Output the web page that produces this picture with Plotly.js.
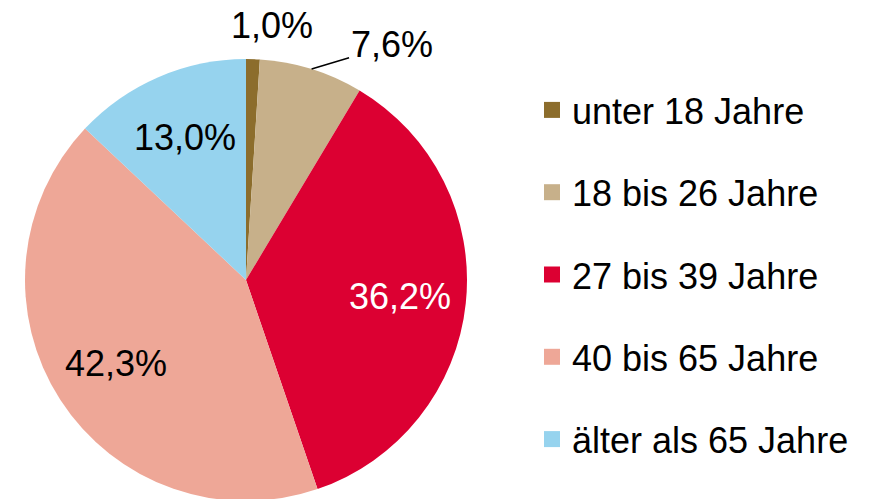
<!DOCTYPE html>
<html>
<head>
<meta charset="utf-8">
<script src="https://cdn.plot.ly/plotly-3.0.1.min.js"></script>
<style>
  html, body { margin: 0; padding: 0; overflow: hidden; background: #fff; }
  #chart { width: 875px; height: 502px; }
</style>
</head>
<body>
<div id="chart"></div>
<script>
const categories = ["unter 18 Jahre", "18 bis 26 Jahre", "27 bis 39 Jahre", "40 bis 65 Jahre", "älter als 65 Jahre"];
const shares = [1.0, 7.6, 36.2, 42.3, 13.0];
const colors = ["#8C6D2C", "#C7B08A", "#DC0032", "#EEA797", "#96D3EE"];
const textColors = ["#000000", "#000000", "#ffffff", "#000000", "#000000"];
const labelInside = [false, false, true, true, true];

const FONT = "Liberation Sans, Arial, sans-serif";
const W = 875, H = 502;
// pie geometry (pixels)
const CX = 246, CY = 280, R = 221;

const pie = {
  type: "pie",
  values: shares,
  labels: categories,
  sort: false,
  direction: "clockwise",
  rotation: 0,
  marker: { colors: colors, line: { width: 0 } },
  textinfo: "none",
  automargin: false,
  showlegend: false,
  hoverinfo: "none",
  domain: { x: [(CX - R) / W, (CX + R) / W], y: [(H - CY - R) / H, (H - CY + R) / H] }
};

const legendTraces = categories.map((c, i) => ({
  type: "scatter",
  mode: "markers",
  x: [null],
  y: [null],
  name: c,
  legendgroup: "g" + i,
  marker: { symbol: "square", size: 19, color: colors[i] },
  hoverinfo: "none"
}));

// data labels placed at the slice mid-angles
const total = shares.reduce((a, b) => a + b, 0);
const fmt = v => v.toFixed(1).replace(".", ",") + "%";
const annotations = [];
let cum = 0;
shares.forEach((v, i) => {
  const mid = (cum + v / 2) / total * 2 * Math.PI;
  cum += v;
  const sx = Math.sin(mid), sy = Math.cos(mid);
  if (labelInside[i]) {
    const rr = 0.7 * R;
    annotations.push({
      xref: "paper", yref: "paper",
      x: (CX + sx * rr) / W, y: (H - CY + sy * rr) / H,
      text: fmt(v), showarrow: false,
      xanchor: "center", yanchor: "middle",
      font: { family: FONT, size: 36, color: textColors[i] }
    });
  } else {
    const px = (CX + sx * R) / W, py = (H - CY + sy * R) / H;
    if (i === 0) {
      annotations.push({
        xref: "paper", yref: "paper", x: px, y: py,
        text: fmt(v), showarrow: false,
        xanchor: "center", yanchor: "middle", xshift: 19, yshift: 34,
        font: { family: FONT, size: 36, color: textColors[i] }
      });
    } else {
      annotations.push({
        xref: "paper", yref: "paper", x: px, y: py,
        text: fmt(v), showarrow: true, arrowhead: 0, arrowwidth: 1.5,
        arrowcolor: "#000", ax: 80, ay: -24, standoff: 0,
        font: { family: FONT, size: 36, color: textColors[i] }
      });
    }
  }
});

const layout = {
  width: W,
  height: H,
  margin: { l: 0, r: 0, t: 0, b: 0 },
  paper_bgcolor: "#fff",
  plot_bgcolor: "#fff",
  font: { family: FONT, size: 36, color: "#000" },
  xaxis: { visible: false, domain: [0.9, 1] },
  yaxis: { visible: false, domain: [0.9, 1] },
  annotations: annotations,
  showlegend: true,
  legend: {
    x: 532 / W,
    xanchor: "left",
    y: 1 - 80 / H,
    yanchor: "top",
    traceorder: "grouped",
    tracegroupgap: 32.5,
    font: { family: FONT, size: 36, color: "#000" },
    itemwidth: 30,
    bgcolor: "rgba(0,0,0,0)",
    borderwidth: 0
  }
};

Plotly.newPlot("chart", [pie].concat(legendTraces), layout, { displayModeBar: false, staticPlot: true });
</script>
</body>
</html>
